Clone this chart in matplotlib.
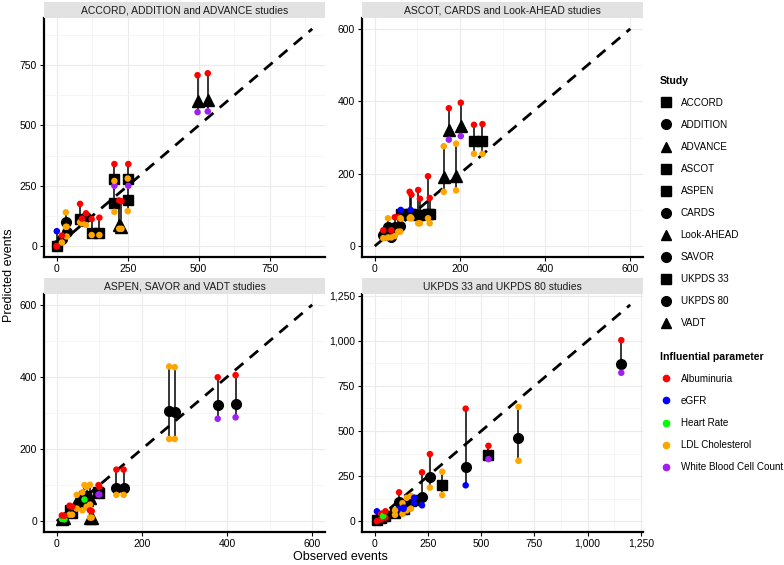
import numpy as np
import matplotlib.pyplot as plt
from matplotlib.lines import Line2D
from matplotlib.ticker import FuncFormatter, MultipleLocator

plt.rcParams['font.family'] = ['Liberation Sans', 'DejaVu Sans']

W, H = 784, 565

# studies and their marker shapes
study_names = ['ACCORD', 'ADDITION', 'ADVANCE', 'ASCOT', 'ASPEN', 'CARDS',
               'Look-AHEAD', 'SAVOR', 'UKPDS 33', 'UKPDS 80', 'VADT']
study_shapes = {'ACCORD': 's', 'ADDITION': 'o', 'ADVANCE': '^', 'ASCOT': 's',
                'ASPEN': 's', 'CARDS': 'o', 'Look-AHEAD': '^', 'SAVOR': 'o',
                'UKPDS 33': 's', 'UKPDS 80': 'o', 'VADT': '^'}

param_names = ['Albuminuria', 'eGFR', 'Heart Rate', 'LDL Cholesterol',
               'White Blood Cell Count']
param_colors = {'Albuminuria': '#ff0000', 'eGFR': '#0000ff', 'Heart Rate': '#00ff00',
                'LDL Cholesterol': '#ffa500', 'White Blood Cell Count': '#a020f0'}
A, E, G, L, P = param_names

panel_titles = ['ACCORD, ADDITION and ADVANCE studies',
                'ASCOT, CARDS and Look-AHEAD studies',
                'ASPEN, SAVOR and VADT studies',
                'UKPDS 33 and UKPDS 80 studies']
panel_max = [900, 600, 600, 1200]
panel_ticks = [250, 200, 200, 250]

# columns: study, observed, predicted, low, low parameter, high, high parameter
p1_study = ['ADVANCE', 'ADVANCE', 'ACCORD', 'ACCORD', 'ACCORD', 'ACCORD', 'ADVANCE', 'ADVANCE',
            'ACCORD', 'ADDITION', 'ADDITION', 'ACCORD', 'ACCORD', 'ACCORD', 'ADDITION',
            'ADDITION', 'ADDITION', 'ADDITION']
p1_obs = [496, 532, 203, 252, 203, 250, 220, 228, 82, 103, 89, 123, 150, 0, 0, 18, 32, 35]
p1_pred = [601, 606, 278, 278, 180, 190, 88, 80, 112, 120, 105, 53, 53, 0, 5, 30, 100, 60]
p1_lo = [555, 558, 250, 250, 142, 145, 72, 72, 99, 88, 95, 46, 46, 0, 0, 15, 80, 40]
p1_lo_par = [P, P, P, P, L, L, L, L, L, L, L, L, L, A, A, L, L, L]
p1_hi = [708, 716, 340, 340, 270, 280, 189, 186, 175, 136, 114, 112, 118, 0, 62, 44, 140, 80]
p1_hi_par = [A, A, A, A, L, L, A, A, A, A, A, A, A, A, E, A, L, L]

p2_study = ['Look-AHEAD', 'Look-AHEAD', 'Look-AHEAD', 'Look-AHEAD', 'ASCOT', 'ASCOT',
            'ASCOT', 'ASCOT', 'ASCOT', 'ASCOT', 'ASCOT', 'ASCOT', 'ASCOT', 'CARDS',
            'CARDS', 'CARDS', 'CARDS', 'CARDS', 'CARDS', 'CARDS']
p2_obs = [174, 202, 162, 191, 233, 253, 125, 129, 102, 106, 82, 86, 61, 84, 55, 31, 47, 39, 20, 60]
p2_pred = [320, 333, 190, 193, 291, 291, 88, 88, 86, 86, 88, 88, 88, 90, 52, 54, 54, 26, 30, 55]
p2_lo = [294, 304, 150, 154, 255, 255, 77, 63, 63, 63, 77, 77, 76, 80, 40, 24, 28, 24, 22, 40]
p2_lo_par = [P, P, L, L, L, L, L, L, L, L, L, L, L, L, L, L, L, L, L, L]
p2_hi = [381, 396, 276, 283, 335, 337, 193, 133, 155, 131, 150, 142, 100, 100, 80, 77, 80, 44, 44, 77]
p2_hi_par = [A, A, L, L, A, A, A, A, A, A, A, A, E, E, A, L, A, A, A, L]

p3_study = ['SAVOR', 'SAVOR', 'SAVOR', 'SAVOR', 'SAVOR', 'SAVOR', 'VADT', 'VADT', 'VADT',
            'VADT', 'VADT', 'VADT', 'VADT', 'VADT', 'ASPEN', 'ASPEN', 'ASPEN', 'ASPEN', 'ASPEN']
p3_obs = [264, 277, 378, 420, 140, 157, 78, 70, 47, 78, 82, 12, 18, 60, 30, 36, 98, 100, 65]
p3_pred = [306, 304, 322, 325, 93, 93, 65, 60, 55, 10, 10, 6, 8, 50, 30, 22, 80, 78, 70]
p3_lo = [228, 228, 284, 288, 73, 73, 46, 40, 35, 10, 10, 6, 5, 30, 18, 18, 74, 74, 60]
p3_lo_par = [L, L, P, P, L, L, L, L, L, L, L, G, G, L, L, L, P, P, G]
p3_hi = [429, 427, 399, 405, 143, 143, 101, 95, 73, 30, 28, 16, 15, 80, 43, 40, 100, 95, 100]
p3_hi_par = [L, L, A, A, A, A, L, L, L, A, A, A, A, L, A, A, A, A, L]

p4_study = ['UKPDS 80', 'UKPDS 80', 'UKPDS 80', 'UKPDS 80', 'UKPDS 80', 'UKPDS 80',
            'UKPDS 33', 'UKPDS 33', 'UKPDS 33', 'UKPDS 33', 'UKPDS 33', 'UKPDS 33',
            'UKPDS 33', 'UKPDS 33', 'UKPDS 33', 'UKPDS 33', 'UKPDS 33', 'UKPDS 33']
p4_obs = [1158, 675, 427, 259, 222, 114, 534, 317, 130, 150, 170, 185, 135, 95, 10, 30, 40, 50]
p4_pred = [869, 464, 302, 247, 133, 107, 365, 201, 70, 90, 110, 120, 70, 45, 5, 20, 28, 30]
p4_lo = [823, 335, 199, 186, 88, 70, 344, 145, 40, 60, 70, 100, 68, 35, 0, 10, 25, 20]
p4_lo_par = [P, L, E, L, E, E, P, L, L, L, L, E, E, L, A, A, G, A]
p4_hi = [1004, 634, 624, 372, 271, 160, 418, 274, 100, 130, 140, 130, 75, 60, 55, 40, 30, 55]
p4_hi_par = [A, L, A, A, A, A, A, L, L, L, L, E, E, L, E, A, G, A]

panels = [
    (p1_study, p1_obs, p1_pred, p1_lo, p1_lo_par, p1_hi, p1_hi_par),
    (p2_study, p2_obs, p2_pred, p2_lo, p2_lo_par, p2_hi, p2_hi_par),
    (p3_study, p3_obs, p3_pred, p3_lo, p3_lo_par, p3_hi, p3_hi_par),
    (p4_study, p4_obs, p4_pred, p4_lo, p4_lo_par, p4_hi, p4_hi_par),
]

# panel boxes in pixels: left, right, top, bottom
boxes = [(44, 325, 18, 257), (362, 643, 18, 257),
         (44, 325, 294, 532), (362, 643, 294, 532)]

fig = plt.figure(figsize=(W / 100, H / 100), dpi=100)


def comma(v, pos):
    return '{:,.0f}'.format(v)


for i, (box, data) in enumerate(zip(boxes, panels)):
    x0, x1, y0, y1 = box
    ax = fig.add_axes([x0 / W, 1 - y1 / H, (x1 - x0) / W, (y1 - y0) / H])
    st = fig.add_axes([x0 / W, 1 - y0 / H, (x1 - x0) / W, 16 / H])
    st.set_facecolor('#e2e2e2')
    st.set_xticks([])
    st.set_yticks([])
    for s in st.spines.values():
        s.set_visible(False)
    st.text(0.5, 0.45, panel_titles[i], ha='center', va='center', fontsize=7.5, color='#1a1a1a')

    study, obs, pred, lo, lo_par, hi, hi_par = data
    m = panel_max[i]
    pad = 0.05 * m
    ax.set_xlim(-pad, m + pad)
    ax.set_ylim(-pad, m + pad)

    ax.plot([0, m], [0, m], color='black', lw=2, dashes=(4, 3), zorder=2)
    ax.vlines(obs, lo, hi, color='black', lw=1.1, zorder=3)
    for st_name in study_names:
        idx = [k for k, s in enumerate(study) if s == st_name]
        if not idx:
            continue
        ms = 8 if study_shapes[st_name] == '^' else 7
        ax.plot([obs[k] for k in idx], [pred[k] for k in idx], study_shapes[st_name],
                color='black', ms=ms, zorder=4)
    ax.scatter(obs, lo, c=[param_colors[p] for p in lo_par], s=22, zorder=5, linewidths=0)
    ax.scatter(obs, hi, c=[param_colors[p] for p in hi_par], s=22, zorder=5, linewidths=0)

    step = panel_ticks[i]
    ax.xaxis.set_major_locator(MultipleLocator(step))
    ax.yaxis.set_major_locator(MultipleLocator(step))
    ax.xaxis.set_minor_locator(MultipleLocator(step / 2))
    ax.yaxis.set_minor_locator(MultipleLocator(step / 2))
    ax.xaxis.set_major_formatter(FuncFormatter(comma))
    ax.yaxis.set_major_formatter(FuncFormatter(comma))
    ax.grid(True, which='major', color='#ebebeb', lw=0.8)
    ax.grid(True, which='minor', color='#f3f3f3', lw=0.5)
    ax.set_axisbelow(True)
    ax.tick_params(which='minor', length=0)
    ax.tick_params(which='major', length=3, width=0.8, labelsize=7.5, colors='black', pad=2)
    for side in ['top', 'right']:
        ax.spines[side].set_visible(False)
    for side in ['left', 'bottom']:
        ax.spines[side].set_linewidth(1.6)

fig.text(340 / W, 1 - 557 / H, 'Observed events', ha='center', va='center', fontsize=9)
fig.text(9 / W, 1 - 275 / H, 'Predicted events', ha='center', va='center',
         rotation=90, fontsize=9)

study_handles = [Line2D([], [], ls='', marker=study_shapes[s], color='black', ms=7)
                 for s in study_names]
leg1 = fig.legend(study_handles, study_names, title='Study', loc='upper left',
                  bbox_to_anchor=(651 / W, 1 - 67 / H), frameon=False, fontsize=7.1,
                  labelspacing=1.22, handlelength=1.2, handletextpad=0.9,
                  title_fontproperties={'weight': 'bold', 'size': 7.6}, alignment='left')
param_handles = [Line2D([], [], ls='', marker='o', color=param_colors[p], ms=4.5)
                 for p in param_names]
leg2 = fig.legend(param_handles, param_names, title='Influential parameter', loc='upper left',
                  bbox_to_anchor=(651 / W, 1 - 343 / H), frameon=False, fontsize=7.1,
                  labelspacing=1.22, handlelength=1.2, handletextpad=0.9,
                  title_fontproperties={'weight': 'bold', 'size': 7.6}, alignment='left')

fig.savefig('out.png', dpi=100)
